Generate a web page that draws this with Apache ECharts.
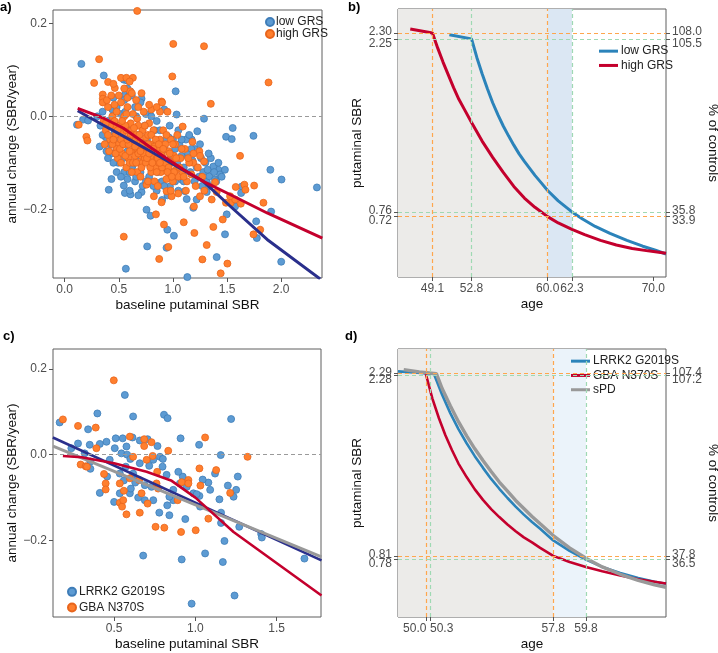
<!DOCTYPE html>
<html><head><meta charset="utf-8">
<script src="https://cdn.jsdelivr.net/npm/echarts@6/dist/echarts.min.js"></script>
<style>html,body{margin:0;padding:0;background:#fff}#c{width:718px;height:653px}</style>
</head><body><div id="c"></div>
<script>
// ---------- Panel a: annual change vs baseline SBR (GRS groups) ----------
const aLowGRS = [
[0.154,0.113],[0.361,0.088],[0.546,0.079],[0.577,0.077],[1.025,0.054],[0.559,0.047],[0.71,0.038],[1.034,0.004],[1.287,-0.005],[1.552,-0.025],[1.491,-0.044],[1.543,-0.049],[1.744,-0.042],[1.9,-0.115],[2.33,-0.153],[2.003,-0.136],[2.0,-0.313],[1.907,-0.205],[1.769,-0.226],[1.775,-0.262],[1.481,-0.254],[1.497,-0.211],[1.404,-0.303],[1.133,-0.346],[0.565,-0.328],[0.762,-0.28],[0.756,-0.201],[0.793,-0.214],[0.948,-0.244],[1.009,-0.257],[0.941,-0.283],[1.188,-0.197],[1.219,-0.179],[1.312,-0.14],[1.336,-0.129],[1.389,-0.136],[1.42,-0.115],[1.373,-0.108],[1.435,-0.125],[1.636,-0.151],[1.63,-0.165],[1.552,-0.179],[1.574,-0.194],[1.151,-0.043],[1.173,-0.05],[1.225,-0.032],[0.407,-0.158],[0.432,-0.135],[0.556,-0.165],[0.608,-0.168],[0.546,-0.149],[0.494,-0.1],[0.623,-0.108],[0.71,-0.163],[0.972,-0.151],[0.88,-0.143],[0.972,-0.128],[1.08,-0.136],[1.111,-0.161],[1.127,-0.178],[1.312,-0.163],[0.324,-0.065],[0.386,-0.075],[0.432,-0.08],[0.17,-0.007],[0.216,-0.009],[0.114,-0.018],[0.59,0.043],[0.605,0.054],
[0.30,0.0],[0.33,-0.02],[0.35,0.01],[0.38,-0.045],[0.40,-0.01],[0.42,-0.06],[0.44,0.015],[0.46,-0.035],[0.48,-0.07],[0.50,-0.02],[0.52,0.005],[0.54,-0.09],[0.56,-0.05],[0.58,-0.075],[0.60,-0.03],[0.62,-0.11],[0.64,-0.06],[0.66,-0.085],[0.68,-0.04],[0.70,-0.12],[0.72,-0.07],[0.74,-0.095],[0.76,-0.05],[0.78,-0.13],[0.80,-0.08],[0.82,-0.105],[0.84,-0.06],[0.86,-0.12],[0.88,-0.09],[0.90,-0.14],[0.92,-0.07],[0.94,-0.11],[0.96,-0.045],[0.98,-0.09],[1.00,-0.12],[1.02,-0.07],[1.04,-0.1],[1.06,-0.06],[1.08,-0.085],[1.10,-0.11],[1.12,-0.05],[1.14,-0.08],[1.16,-0.12],[1.18,-0.095],[1.20,-0.07],[1.22,-0.11],[1.24,-0.13],[1.26,-0.09],[1.28,-0.12],[1.30,-0.1],[1.32,-0.115],[1.35,-0.09],[1.38,-0.12],[1.42,-0.1],[1.45,-0.13],[1.48,-0.115],
[0.55,0.035],[0.65,0.02],[0.75,0.005],[0.85,-0.01],[0.92,0.015],[0.97,-0.02],[0.62,0.045],[0.70,0.03],[0.58,0.06],[0.80,0.0],[0.88,-0.03],[1.05,-0.03],[1.15,-0.04],[0.45,0.04],[0.50,-0.055],
[0.55,-0.12],[0.65,-0.14],[0.60,-0.16],[0.72,-0.15],[0.85,-0.16],[0.95,-0.17],[0.48,-0.12],[0.40,-0.09],[0.58,-0.135],[0.90,-0.18],[1.05,-0.16],[0.68,-0.17],
[0.35,-0.04],[0.45,-0.1],[0.52,-0.13],[0.6,-0.12],[0.66,-0.13],[0.75,-0.14],[0.82,-0.15],[0.92,-0.15],[1.02,-0.14],[1.1,-0.14],[1.2,-0.14],[1.27,-0.15],[1.34,-0.15],[1.4,-0.14],[0.48,0.02],[0.56,0.01],[0.66,0.0],[0.74,-0.02],[0.83,-0.03],[0.94,-0.05],[1.0,-0.05],[1.08,-0.05],[1.17,-0.07],[1.25,-0.06],[1.33,-0.08]
];
const aHighGRS = [
[0.67,0.227],[1.003,0.156],[1.287,0.151],[0.318,0.123],[1.883,0.073],[0.994,0.086],[0.272,0.072],[0.52,0.083],[0.57,0.083],[0.63,0.083],[0.463,0.061],[0.401,0.074],[1.35,0.027],[0.895,0.032],[0.13,-0.018],[0.2,-0.044],[0.21,-0.052],[0.546,-0.259],[0.843,-0.211],[0.917,-0.233],[0.873,-0.307],[0.957,-0.281],[1.198,-0.251],[1.1,-0.228],[1.272,-0.308],[1.312,-0.277],[1.373,-0.238],[1.46,-0.222],[1.441,-0.338],[1.503,-0.317],[1.627,-0.188],[1.66,-0.147],[1.75,-0.149],[1.836,-0.186],[1.744,-0.254],[1.806,-0.244],[1.534,-0.186],[1.62,-0.085],[1.049,-0.166],[1.287,-0.097],[1.404,-0.163],[1.25,-0.172],[1.389,-0.142],[1.574,-0.179],[1.194,-0.194],[0.895,-0.185],[0.941,-0.161],[0.988,-0.172],[0.756,-0.147],[0.824,-0.172],[1.188,-0.1],[1.09,-0.022],[1.244,-0.075],[1.58,-0.152],[1.67,-0.158],[1.358,-0.179],[1.49,-0.186],[1.528,-0.172],[0.352,0.047],[0.352,0.038],[0.352,0.03],[0.605,0.054],
[0.36,-0.01],[0.38,-0.03],[0.40,0.02],[0.42,-0.05],[0.44,0.0],[0.37,-0.06],[0.41,-0.075],[0.45,-0.02],[0.39,0.035],[0.43,0.045],
[0.47,-0.04],[0.48,0.01],[0.50,-0.06],[0.51,-0.02],[0.52,0.03],[0.53,-0.08],[0.49,-0.09],[0.54,-0.035],[0.46,0.025],[0.55,0.0],[0.52,-0.05],[0.50,0.045],[0.48,-0.07],
[0.56,-0.06],[0.57,-0.03],[0.58,0.02],[0.59,-0.09],[0.60,-0.045],[0.61,-0.015],[0.62,-0.075],[0.63,0.005],[0.64,-0.055],[0.57,-0.11],[0.60,-0.1],[0.62,-0.03],[0.58,0.04],[0.65,-0.085],[0.56,-0.02],
[0.66,-0.04],[0.67,-0.07],[0.68,-0.02],[0.69,-0.1],[0.70,-0.055],[0.71,-0.085],[0.72,-0.03],[0.73,0.01],[0.74,-0.065],[0.67,-0.12],[0.70,-0.13],[0.72,-0.1],[0.75,-0.045],[0.68,0.02],[0.74,-0.09],
[0.76,-0.07],[0.77,-0.04],[0.78,-0.1],[0.79,-0.06],[0.80,-0.12],[0.81,-0.085],[0.82,-0.03],[0.83,-0.065],[0.84,-0.11],[0.78,-0.015],[0.80,0.015],[0.85,-0.09],[0.77,-0.14],[0.83,-0.14],
[0.86,-0.07],[0.87,-0.1],[0.88,-0.05],[0.89,-0.12],[0.90,-0.085],[0.91,-0.03],[0.92,-0.11],[0.93,-0.06],[0.94,-0.135],[0.88,0.01],[0.90,0.03],[0.95,-0.095],[0.86,-0.15],
[0.96,-0.075],[0.97,-0.12],[0.98,-0.05],[0.99,-0.1],[1.00,-0.14],[1.01,-0.085],[1.02,-0.06],[1.03,-0.115],[1.04,-0.04],[1.05,-0.13],[0.98,-0.16],
[1.07,-0.09],[1.09,-0.12],[1.11,-0.07],[1.13,-0.14],[1.15,-0.1],[1.17,-0.125],[1.19,-0.08],[1.21,-0.15],[1.23,-0.11],[1.25,-0.085],[1.27,-0.13],[1.29,-0.16],[1.12,-0.16],[1.18,-0.055],
[0.55,0.06],[0.62,0.05],[0.71,0.05],[0.45,0.07],[0.60,0.075],[0.85,0.02],[0.95,0.01],[0.66,0.035],[0.78,0.025],
[0.40,-0.04],[0.42,-0.02],[0.44,-0.06],[0.46,-0.01],[0.47,-0.08],[0.49,-0.03],[0.51,-0.07],[0.53,-0.01],[0.54,-0.06],[0.56,-0.085],[0.57,0.005],[0.59,-0.06],[0.60,-0.075],[0.61,-0.04],[0.63,-0.1],[0.64,-0.025],[0.65,-0.065],[0.66,-0.1],[0.67,-0.005],[0.68,-0.08],[0.69,-0.04],[0.71,-0.11],[0.72,-0.06],[0.73,-0.08],[0.74,-0.02],[0.75,-0.1],[0.76,-0.09],[0.77,-0.06],[0.79,-0.11],[0.80,-0.04],[0.81,-0.1],[0.82,-0.07],[0.84,-0.05],[0.85,-0.12],[0.86,-0.09],[0.87,-0.06],[0.89,-0.08],[0.90,-0.11],[0.91,-0.07],[0.93,-0.1],[0.94,-0.04],[0.96,-0.11],[0.97,-0.08],[1.0,-0.06],[1.01,-0.12],[1.03,-0.09],[1.06,-0.11],[1.08,-0.07],[1.10,-0.13],[1.14,-0.09],[0.38,-0.015],[0.45,-0.05],[0.52,-0.1],[0.58,-0.05],[0.62,-0.12],[0.70,-0.075],[0.78,-0.08],[0.88,-0.1],[0.95,-0.12],[0.99,-0.13]
];
const aLowFit  = [[0.12,0.012],[0.35,-0.018],[0.6,-0.05],[0.82,-0.079],[1.06,-0.111],[1.28,-0.14],[1.56,-0.2],[1.87,-0.265],[2.36,-0.35]];
const aHighFit = [[0.12,0.017],[0.35,-0.003],[0.54,-0.025],[0.69,-0.05],[0.8,-0.068],[0.97,-0.095],[1.1,-0.115],[1.28,-0.14],[1.56,-0.172],[1.87,-0.208],[2.38,-0.262]];
const aXTicks = [0, 0.5, 1.0, 1.5, 2.0];
const aYTicks = [-0.2, 0, 0.2];

// ---------- Panel b: SBR trajectory by age (GRS groups) ----------
const bLowGRS = [[50.7,2.285],[52.8,2.25],[53.3,2.09],[53.8,1.95],[54.3,1.82],[54.8,1.70],[55.3,1.595],[55.8,1.50],[56.3,1.415],[56.8,1.335],[57.3,1.26],[57.8,1.195],[58.8,1.075],[59.4,1.01],[60.0,0.945],[61.0,0.855],[62.3,0.76],[63.3,0.70],[64.5,0.635],[65.9,0.575],[67.5,0.515],[69.0,0.465],[70.2,0.43],[71.2,0.398]];
const bHighGRS = [[47.0,2.335],[49.1,2.30],[49.6,2.17],[50.1,2.05],[50.6,1.94],[51.1,1.83],[51.6,1.73],[52.2,1.63],[52.8,1.53],[53.8,1.37],[54.8,1.23],[55.8,1.10],[56.8,0.98],[57.8,0.88],[58.8,0.80],[60.0,0.72],[61.0,0.665],[62.3,0.61],[63.5,0.565],[65.0,0.515],[66.5,0.475],[68.0,0.445],[69.5,0.425],[71.2,0.405]];
const bAgeTicks = [49.1, 52.8, 60.0, 62.3, 70.0];
const bSbrTicks = [2.30, 2.25, 0.76, 0.72];
const bPctLabels = ['108.0', '105.5', '35.8', '33.9'];
const bOrangeAges = [49.1, 60.0], bOrangeSbr = [2.30, 0.72];
const bGreenAges = [52.8, 62.3], bGreenSbr = [2.25, 0.76];

// ---------- Panel c: annual change vs baseline SBR (mutation groups) ----------
const cLRRK2 = [
[0.165,0.075],[0.397,0.096],[0.34,0.059],[0.566,0.139],[0.617,0.089],[0.807,0.093],[0.829,0.085],[1.22,0.083],[0.909,0.038],[1.023,0.023],[1.156,-0.001],[1.261,-0.051],[1.251,-0.082],[1.2,-0.072],[1.148,-0.104],[1.158,-0.135],[1.158,-0.159],[1.27,-0.168],[1.179,-0.201],[1.169,-0.25],[1.06,-0.23],[0.916,-0.244],[0.679,-0.235],[1.405,-0.185],[1.409,-0.193],[1.671,-0.242],[1.241,-0.328],[0.977,-0.347],[0.938,-0.15],[0.84,-0.141],[0.778,-0.135],[0.827,-0.118],[0.864,-0.106],[0.988,-0.09],[1.025,-0.096],[1.091,-0.082],[1.08,-0.065],[1.045,-0.058],[0.905,-0.067],[0.922,-0.051],[0.823,-0.047],[0.798,-0.028],[0.782,-0.005],[0.767,0.02],[0.706,0.036],[0.658,0.033],[0.613,0.04],[0.553,0.038],[0.51,0.038],[0.504,0.015],[0.576,0.019],[0.545,0.003],[0.473,-0.012],[0.453,0.03],[0.412,0.025],[0.35,0.023],[0.278,0.026],[0.237,0.015],[0.319,0.003],[0.354,-0.016],[0.354,-0.033],[0.412,-0.089],[0.457,-0.051],[0.5,-0.11],[0.535,-0.09],[0.597,-0.09],[0.603,-0.079],[0.617,-0.044],[0.638,-0.059],[0.689,-0.071],[0.73,-0.075],[0.716,-0.026],[0.741,-0.012],[0.658,-0.02],[0.572,-0.028],[0.535,-0.044],[0.741,-0.106],[0.689,-0.106],[0.648,-0.1],[0.84,-0.098],[0.864,-0.082],[0.895,-0.04],[0.947,-0.075],[1.235,-0.098],[1.121,-0.044],[1.008,-0.092],[1.029,-0.121],[0.58,0.0],[0.6,-0.01],[0.8,-0.01],[0.56,-0.06],[0.63,-0.065]
];
const cGBA = [
[0.498,0.173],[0.185,0.082],[0.278,0.067],[0.387,0.063],[0.597,0.042],[1.06,0.040],[1.321,-0.005],[0.294,-0.023],[0.325,-0.027],[0.391,0.015],[0.438,-0.045],[0.448,-0.067],[0.448,-0.081],[0.535,-0.112],[0.549,-0.121],[0.556,-0.106],[0.576,-0.139],[0.658,-0.135],[0.706,-0.114],[0.755,-0.168],[0.809,-0.17],[0.912,-0.18],[1.002,-0.176],[1.08,-0.149],[1.214,-0.089],[1.128,-0.036],[1.025,-0.032],[1.031,-0.072],[0.833,0.009],[0.685,0.036],[0.685,0.02],[0.73,0.029],[0.891,-0.106],[0.916,-0.064],[0.957,-0.059],[0.957,-0.067],[0.737,-0.003],[0.7,-0.012],[0.765,-0.04],[0.761,-0.067],[0.654,-0.059],[0.669,-0.09],[0.617,-0.005],[0.597,-0.055],[0.333,-0.028],[0.535,-0.067],[0.56,-0.084],[0.771,-0.079]
];
const cLRRK2Fit = [[0.123,0.04],[1.776,-0.246]];
const cSPDFit   = [[0.124,0.02],[1.776,-0.238]];
const cGBAFit   = [[0.185,-0.003],[0.3,-0.006],[0.5,-0.02],[0.7,-0.04],[0.85,-0.06],[1.0,-0.1],[1.235,-0.18],[1.776,-0.328]];
const cXTicks = [0.5, 1.0, 1.5];
const cYTicks = [-0.2, 0, 0.2];

// ---------- Panel d: SBR trajectory by age (mutation groups) ----------
const dLRRK2 = [[48.3,2.309],[49.5,2.298],[50.5,2.288],[51.0,2.12],[51.5,1.97],[52.0,1.84],[52.5,1.725],[53.0,1.62],[53.5,1.525],[54.0,1.435],[54.5,1.355],[55.0,1.28],[55.5,1.21],[56.0,1.145],[56.5,1.085],[57.0,1.03],[57.8,0.935],[58.8,0.85],[59.8,0.78],[60.8,0.72],[61.9,0.67],[63.0,0.63],[64.0,0.60],[64.7,0.583]];
const dGBA = [[50.0,2.29],[50.4,2.09],[50.8,1.93],[51.2,1.79],[51.6,1.67],[52.0,1.56],[52.5,1.45],[53.0,1.35],[53.5,1.265],[54.0,1.19],[54.5,1.125],[55.0,1.065],[55.5,1.01],[56.0,0.96],[56.5,0.92],[57.0,0.875],[57.8,0.81],[58.8,0.76],[59.8,0.72],[60.8,0.685],[61.9,0.65],[63.0,0.62],[64.0,0.60],[64.7,0.585]];
const dSPD = [[48.65,2.323],[49.6,2.305],[50.65,2.29],[51.0,2.17],[51.5,2.03],[52.0,1.90],[52.5,1.785],[53.0,1.68],[53.5,1.585],[54.0,1.495],[54.5,1.41],[55.0,1.335],[55.5,1.26],[56.0,1.195],[56.5,1.13],[57.0,1.07],[57.8,0.975],[58.8,0.875],[59.8,0.79],[60.8,0.72],[61.9,0.66],[63.0,0.61],[64.0,0.575],[64.7,0.555]];
const dAgeTicks = [50.0, 50.3, 57.8, 59.8];
const dSbrTicks = [2.29, 2.28, 0.81, 0.78];
const dPctLabels = ['107.4', '107.2', '37.8', '36.5'];
const dOrangeAges = [50.0, 57.8], dOrangeSbr = [2.29, 0.81];
const dGreenAges = [50.3, 59.8], dGreenSbr = [2.28, 0.78];

// ---------- styling ----------
const FONT = "'Liberation Sans', Arial, sans-serif";
const NARROW = "'Liberation Sans Narrow', 'Liberation Sans', Arial, sans-serif";
const TICKC = '#4d4d4d';
const PT_BLUE = '#5d9bd3', PT_BLUE_E = '#3f7db8', PT_OR = '#ff7f2e', PT_OR_E = '#e8651c';
const NAVY = '#2a2f8c', CRIMSON = '#c4002d', LBLUE = '#2b83ba', GREY = '#999999';
const ORANGE_D = '#ffa64d', GREEN_D = '#9fd9b3';
const SHADE_GREY = '#ecebe9';

const lab = () => ({fontSize: 12, color: TICKC, fontFamily: FONT});
const rich = {
  n: lab(), u: Object.assign(lab(), {padding: [0, 0, 3, 0]}), d: Object.assign(lab(), {padding: [9, 0, 0, 0]}),
  l: Object.assign(lab(), {padding: [0, 22, 0, 0]}), r: Object.assign(lab(), {padding: [0, 0, 0, 22]})
};
const fmtNum = (v) => (v < -1e-9 ? '\u2212' : '') + Math.abs(v).toFixed(1);
const idx = (arr, v) => arr.findIndex(t => Math.abs(t - v) < 1e-6);
const evens = (arr) => arr.filter((_, i) => i % 2 === 0);
const odds = (arr) => arr.filter((_, i) => i % 2 === 1);

function axis(gridIndex, min, max, ticks, formatter, extra) {
  const a = {
    type: 'value', gridIndex, min, max, scale: true,
    splitLine: {show: false}, axisLine: {show: false, onZero: false},
    axisTick: {show: true, length: 4, customValues: ticks, lineStyle: {color: '#555', width: 1}},
    axisLabel: {customValues: ticks, formatter, color: TICKC, fontSize: 12, fontFamily: FONT, margin: 6, rich, hideOverlap: false},
    nameLocation: 'middle', nameTextStyle: {color: '#111', fontSize: 13.5, fontFamily: FONT}
  };
  return Object.assign(a, extra || {});
}
const pairFmt = (ticks, labels, style) => (v) => '{' + style + '|' + labels[idx(ticks, v)] + '}';

const aX = [-0.108, 2.377], aY = [-0.348, 0.229];
const bX = [45.84, 71.2], bY = [0.20, 2.507];
const cX = [0.124, 1.773], cY = [-0.378, 0.246];
const dX = [48.30, 64.70], dY = [0.313, 2.491];

// paired ticks: the upper member's label is nudged up, the lower member's down
function sideAxes(grid, Y, ticks, labels, pctLabels, leftName) {
  const up = evens(ticks), lo = odds(ticks);
  return [
    axis(grid, Y[0], Y[1], up, pairFmt(up, evens(labels), 'u'), {name: leftName, nameGap: 24, position: 'left'}),
    axis(grid, Y[0], Y[1], lo, pairFmt(lo, odds(labels), 'd'), {position: 'left'}),
    axis(grid, Y[0], Y[1], up, pairFmt(up, evens(pctLabels), 'u'), {name: '% of controls', nameGap: 36, position: 'right', nameRotate: -90}),
    axis(grid, Y[0], Y[1], lo, pairFmt(lo, odds(pctLabels), 'd'), {position: 'right'})
  ];
}

function dash(ages, sbrs, color) {
  const ls = {color, type: [4, 3], width: 1.2};
  return ages.map(a => ({xAxis: a, lineStyle: ls})).concat(sbrs.map(s => ({yAxis: s, lineStyle: ls})));
}
const mlBase = {silent: true, symbol: ['none', 'none'], label: {show: false}, emphasis: {disabled: true}, animation: false};

const scatter = (name, xi, yi, data, c, e, extra) => Object.assign({type: 'scatter', name, xAxisIndex: xi, yAxisIndex: yi, data, symbolSize: 7, itemStyle: {color: c, borderColor: e, borderWidth: 0.8, opacity: 1}, z: 2}, extra || {});
const line = (name, xi, yi, data, color, w, extra) => Object.assign({type: 'line', name, xAxisIndex: xi, yAxisIndex: yi, data, showSymbol: false, symbol: 'none', lineStyle: {width: w, color}, itemStyle: {color}, z: 3}, extra || {});

const zeroLine = {markLine: Object.assign({}, mlBase, {data: [{yAxis: 0, lineStyle: {color: '#9a9a9a', type: [4, 3], width: 1}}]})};

const yAxes = [axis(0, aY[0], aY[1], aYTicks, v => fmtNum(v), {name: 'annual change (SBR/year)', nameGap: 34, position: 'left'})]
  .concat(sideAxes(1, bY, bSbrTicks, bSbrTicks.map(v => v.toFixed(2)), bPctLabels, 'putaminal SBR'))
  .concat([axis(2, cY[0], cY[1], cYTicks, v => fmtNum(v), {name: 'annual change (SBR/year)', nameGap: 34, position: 'left'})])
  .concat(sideAxes(3, dY, dSbrTicks, dSbrTicks.map(v => v.toFixed(2)), dPctLabels, 'putaminal SBR'));
// y axis indices: a=0, b=1..4, c=5, d=6..9

const titleStyle = {fontSize: 13, fontWeight: 'bold', fontFamily: FONT, color: '#000'};
const option = {
  animation: false,
  backgroundColor: '#ffffff',
  title: [
    {text: 'a)', left: 0, top: 1, padding: 0, textStyle: titleStyle},
    {text: 'b)', left: 348, top: 1, padding: 0, textStyle: titleStyle},
    {text: 'c)', left: 3, top: 330, padding: 0, textStyle: titleStyle},
    {text: 'd)', left: 345, top: 330, padding: 0, textStyle: titleStyle}
  ],
  grid: [
    {left: 53, top: 10, width: 269, height: 268},
    {left: 398, top: 9, width: 268, height: 268},
    {left: 53, top: 349, width: 268, height: 268},
    {left: 398, top: 349, width: 268, height: 268}
  ].map(g => Object.assign(g, {show: true, borderColor: '#5e5e5e', borderWidth: 1, backgroundColor: 'transparent', containLabel: false, outerBoundsMode: 'none'})),
  legend: [
    {data: ['low GRS', 'high GRS'], orient: 'vertical', left: 265, top: 16, icon: 'circle', itemWidth: 8, itemHeight: 8, itemGap: 0, selectedMode: false, padding: 0,
     textStyle: {fontFamily: NARROW, fontSize: 12, color: '#222', lineHeight: 11, padding: [0, 0, 0, -3]}},
    {data: ['low GRS ', 'high GRS '], orient: 'vertical', left: 599, top: 44, icon: 'rect', itemWidth: 19, itemHeight: 3, itemGap: 0, selectedMode: false, padding: 0,
     textStyle: {fontFamily: NARROW, fontSize: 12, color: '#222', lineHeight: 14.3, padding: [0, 0, 0, -2]}},
    {data: ['LRRK2 G2019S', 'GBA N370S'], orient: 'vertical', left: 67, top: 584, icon: 'circle', itemWidth: 8, itemHeight: 8, itemGap: 0, selectedMode: false, padding: 0,
     textStyle: {fontFamily: NARROW, fontSize: 12, color: '#222', lineHeight: 15.7, padding: [0, 0, 0, -2]}},
    {data: ['LRRK2 G2019S ', 'GBA N370S ', 'sPD'], orient: 'vertical', left: 571, top: 354, icon: 'rect', itemWidth: 19, itemHeight: 3, itemGap: 0, selectedMode: false, padding: 0,
     textStyle: {fontFamily: NARROW, fontSize: 12, color: '#222', lineHeight: 14.3, padding: [0, 0, 0, -2]}}
  ],
  xAxis: [
    axis(0, aX[0], aX[1], aXTicks, v => fmtNum(v), {name: 'baseline putaminal SBR', nameGap: 20}),
    axis(1, bX[0], bX[1], bAgeTicks, v => v.toFixed(1), {name: 'age', nameGap: 20}),
    axis(2, cX[0], cX[1], cXTicks, v => fmtNum(v), {name: 'baseline putaminal SBR', nameGap: 20}),
    axis(3, dX[0], dX[1], dAgeTicks, v => { const i = idx(dAgeTicks, v); return '{' + (i === 0 ? 'l' : i === 1 ? 'r' : 'n') + '|' + v.toFixed(1) + '}'; }, {name: 'age', nameGap: 20})
  ],
  yAxis: yAxes,
  series: [
    scatter('low GRS', 0, 0, aLowGRS, PT_BLUE, PT_BLUE_E),
    scatter('high GRS', 0, 0, aHighGRS, PT_OR, PT_OR_E, zeroLine),
    line('aLowFit', 0, 0, aLowFit, NAVY, 3),
    line('aHighFit', 0, 0, aHighFit, CRIMSON, 3),
    line('low GRS ', 1, 1, bLowGRS, LBLUE, 3, {
      markArea: {silent: true, emphasis: {disabled: true}, data: [
        [{xAxis: bX[0], itemStyle: {color: SHADE_GREY}}, {xAxis: bOrangeAges[1]}],
        [{xAxis: bOrangeAges[1], itemStyle: {color: '#dbe7f3'}}, {xAxis: bGreenAges[1]}]
      ]},
      markLine: Object.assign({}, mlBase, {data: dash(bOrangeAges, bOrangeSbr, ORANGE_D).concat(dash(bGreenAges, bGreenSbr, GREEN_D))})
    }),
    line('high GRS ', 1, 1, bHighGRS, CRIMSON, 3),
    scatter('LRRK2 G2019S', 2, 5, cLRRK2, PT_BLUE, PT_BLUE_E),
    scatter('GBA N370S', 2, 5, cGBA, PT_OR, PT_OR_E, zeroLine),
    line('cLRRK2Fit', 2, 5, cLRRK2Fit, NAVY, 2.6),
    line('cSPDFit', 2, 5, cSPDFit, GREY, 3),
    line('cGBAFit', 2, 5, cGBAFit, CRIMSON, 2.6),
    line('LRRK2 G2019S ', 3, 6, dLRRK2, LBLUE, 2.6, {
      markArea: {silent: true, emphasis: {disabled: true}, data: [
        [{xAxis: dX[0], itemStyle: {color: SHADE_GREY}}, {xAxis: dOrangeAges[1]}],
        [{xAxis: dOrangeAges[1], itemStyle: {color: '#ebf3fa'}}, {xAxis: dGreenAges[1]}]
      ]},
      markLine: Object.assign({}, mlBase, {data: dash(dOrangeAges, dOrangeSbr, ORANGE_D).concat(dash(dGreenAges, dGreenSbr, GREEN_D))})
    }),
    line('GBA N370S ', 3, 6, dGBA, CRIMSON, 2.6),
    line('sPD', 3, 6, dSPD, GREY, 3.4)
  ]
};
const chart = echarts.init(document.getElementById('c'), null, {renderer: 'canvas'});
chart.setOption(option);
</script></body></html>
